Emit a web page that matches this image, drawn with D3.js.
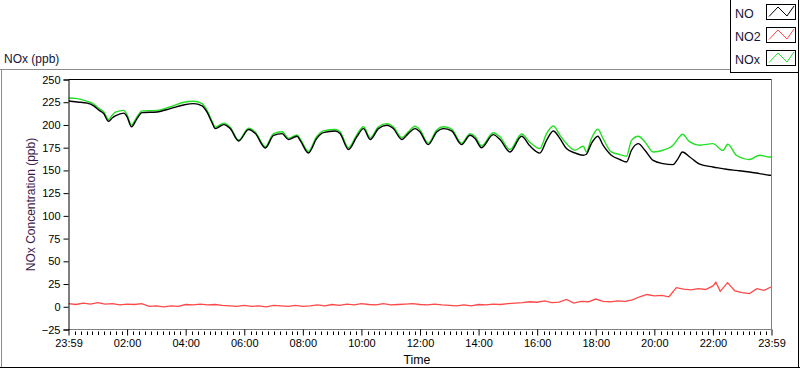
<!DOCTYPE html>
<html><head><meta charset="utf-8">
<script src="https://cdn.jsdelivr.net/npm/d3@7"></script>
<style>body{margin:0;background:#fff}svg{display:block;font-family:"Liberation Sans",Arial,sans-serif}</style>
</head><body><svg id="c" width="800" height="369"></svg>
<script>
// ---- data (time in hours after 23:59) ----
const seriesNames = ["NO", "NO2", "NOx"];
const seriesColors = ["#000000", "#ff4848", "#22e022"];
const yTickValues = [-25, 0, 25, 50, 75, 100, 125, 150, 175, 200, 225, 250];
const xTickHours = [0, 2, 4, 6, 8, 10, 12, 14, 16, 18, 20, 22, 24];
const xTickLabels = ["23:59", "02:00", "04:00", "06:00", "08:00", "10:00", "12:00", "14:00", "16:00", "18:00", "20:00", "22:00", "23:59"];

const noTimes = [0.00,0.30,0.64,0.86,1.05,1.20,1.37,1.50,1.60,1.89,2.00,2.15,2.34,2.51,3.02,3.48,3.93,4.27,4.56,4.73,4.90,5.01,5.30,5.52,5.81,6.15,6.38,6.72,7.00,7.29,7.51,7.80,7.92,8.19,8.47,8.70,9.10,9.27,9.56,9.84,10.07,10.30,10.58,10.87,11.09,11.38,11.60,11.83,12.00,12.28,12.57,12.80,13.08,13.42,13.71,13.88,14.10,14.50,14.73,15.07,15.47,15.75,16.09,16.32,16.55,16.78,17.00,17.29,17.57,17.68,17.85,18.07,18.25,18.53,18.82,19.05,19.22,19.45,19.68,19.96,20.30,20.64,20.81,20.96,21.21,21.55,22.00,22.34,22.51,22.80,23.25,23.59,23.93,24.00];
const noValues = [226.4,225.3,224,221,216,212.5,204,208,210,213,209,198,207,213.6,214.3,218,222,223.5,221,214,202.6,196,200.4,196,182.4,195,190.5,174.7,188.6,190.5,184,187.5,182.4,169.2,185,191.6,193.4,190.5,173,186.8,196,184,196,199.7,196,184,190.5,196,192.3,178.4,192.3,196,193.4,178.4,188.6,185,175,189.4,184,170.3,187.6,177,169,183,193.4,185,174,169.2,166.7,167.8,179.5,187.6,177.7,166.7,162,159.3,172.2,179.5,172.2,161,157.5,156.4,163,170.3,164.8,156.8,153.8,152,151,150,148.3,146.5,144.7,144.5];
const noxValues = [229.7,229,226,223,218,214.5,206,211,214,216,211,200,209,215.5,216,220,225,226,223.5,216,204,197.5,202,197.5,183.5,196.5,192,176,190.5,192.5,185.5,189,184,171,187,193.5,195,192.5,175,189,198,186,198,201.5,198,186,192.5,198.5,194.5,180,194.5,198,195.5,180,190.5,187.5,177,191.5,187,173,190,181,174,190.5,198.9,188.6,179.5,172.2,176.6,170.3,185,195.3,185,170.3,167.4,165.6,183,187.6,181.3,170.3,172.2,177.7,185,189.8,181.3,177.7,179.5,172,178.8,166.7,162,166.7,164.8,165];

const no2Times = [0,0.25,0.5,0.75,1,1.25,1.5,1.75,2,2.25,2.5,2.75,3,3.25,3.5,3.75,4,4.25,4.5,4.75,5,5.25,5.5,5.75,6,6.25,6.5,6.75,7,7.25,7.5,7.75,8,8.25,8.5,8.75,9,9.25,9.5,9.75,10,10.25,10.5,10.75,11,11.25,11.5,11.75,12,12.25,12.5,12.75,13,13.25,13.5,13.75,14,14.25,14.5,14.75,15,15.25,15.5,15.75,16,16.25,16.5,16.75,17,17.25,17.5,17.75,18,18.25,18.5,18.75,19,19.25,19.5,19.75,20,20.25,20.5,20.75,21,21.25,21.5,21.75,22,22.1,22.25,22.5,22.75,23,23.25,23.5,23.75,24];
const no2Values = [3.5,2.5,4,3,4.5,3,3.5,2,3,2.5,3.5,0.5,1,0,1,0.5,2.5,2,3,2,2.5,1.5,1,0.5,1.5,0.5,1,0,1.5,1,0.5,1.5,0.5,1,2,1,2.5,1.5,3,2,3.5,2.5,2,3.5,2,2.5,3,3.5,2.5,2,3,2,1.5,1,2,1,2.5,2,3,2.5,3.5,4,4.5,5.5,5,6.5,4.5,5,8,4,6,5.5,8.5,6,5.5,6.5,6,7.5,11,13.5,12,12.5,11,21,19.5,18.5,20,19,23,27,17,26.5,17.5,15.5,14.5,20,18,22];

// ---- layout ----
const svg = d3.select("#c");
const L = 68.5, R = 771.5, T = 79.5, B = 329.5;
const x = d3.scaleLinear().domain([0, 24]).range([L, R]);
const y = d3.scaleLinear().domain([-25, 250]).range([B, T]);

// panel frame
svg.append("line").attr("x1",0).attr("x2",730).attr("y1",69.5).attr("y2",69.5).attr("stroke","#8c8c8c");
svg.append("line").attr("x1",1.5).attr("x2",1.5).attr("y1",69.5).attr("y2",368).attr("stroke","#8c8c8c");
svg.append("line").attr("x1",0).attr("x2",800).attr("y1",367.5).attr("y2",367.5).attr("stroke","#000");
svg.append("line").attr("x1",798.5).attr("x2",798.5).attr("y1",0).attr("y2",368).attr("stroke","#000");

svg.append("text").attr("x",4).attr("y",63).attr("font-size",12).attr("fill","#141438").text("NOx (ppb)");

// legend
svg.append("line").attr("x1",730.5).attr("x2",730.5).attr("y1",0).attr("y2",73).attr("stroke","#000");
svg.append("line").attr("x1",730).attr("x2",799).attr("y1",72.5).attr("y2",72.5).attr("stroke","#000");
const legY = [4.5, 27.5, 50.5];
const legOrder = [0, 1, 2];
legOrder.forEach((k, i) => {
  const g = svg.append("g").attr("transform", `translate(0,${legY[i]})`);
  g.append("text").attr("x",735).attr("y",13.5).attr("font-size",12.5).attr("fill","#141438").text(seriesNames[k]);
  g.append("rect").attr("x",766.5).attr("y",0).attr("width",29).attr("height",15).attr("fill","#fff").attr("stroke","#000");
  g.append("polyline").attr("points",[[769,12],[778,2.5],[787,11.5],[794,1.5]].map(p=>p.join(",")).join(" "))
    .attr("fill","none").attr("stroke",seriesColors[k]).attr("stroke-width",1);
});

// plot area
svg.append("defs").append("clipPath").attr("id","clip").append("rect")
  .attr("x",L).attr("y",T).attr("width",R-L).attr("height",B-T);

const plot = svg.append("g").attr("clip-path","url(#clip)");
const lineGen = d3.line().x(d => x(d[0])).y(d => y(d[1]));
const smoothGen = d3.line().x(d => x(d[0])).y(d => y(d[1])).curve(d3.curveMonotoneX);
plot.append("path").datum(no2Times.map((t,i)=>[t,no2Values[i]])).attr("d",lineGen)
  .attr("fill","none").attr("stroke",seriesColors[1]).attr("stroke-width",1.3);
plot.append("path").datum(noTimes.map((t,i)=>[t,noxValues[i]])).attr("d",smoothGen)
  .attr("fill","none").attr("stroke",seriesColors[2]).attr("stroke-width",1.4);
plot.append("path").datum(noTimes.map((t,i)=>[t,noValues[i]])).attr("d",smoothGen)
  .attr("fill","none").attr("stroke",seriesColors[0]).attr("stroke-width",1.4);

// plot borders
svg.append("line").attr("x1",L).attr("x2",R).attr("y1",B).attr("y2",B).attr("stroke","#808080");
svg.append("line").attr("x1",R).attr("x2",R).attr("y1",T).attr("y2",B).attr("stroke","#808080");
svg.append("line").attr("x1",L).attr("x2",R).attr("y1",T).attr("y2",T).attr("stroke","#000");

// y axis
const yAxis = d3.axisLeft(y).tickValues(yTickValues).tickSize(5).tickPadding(3);
const gy = svg.append("g").attr("transform",`translate(${L},0)`).call(yAxis);
gy.select(".domain").attr("stroke","#000");
gy.selectAll("text").attr("font-size",11).attr("fill","#000").attr("font-family","'Liberation Sans',Arial,sans-serif");

// x axis (major)
const xAxis = d3.axisBottom(x).tickValues(xTickHours).tickSize(6).tickPadding(4)
  .tickFormat((d,i) => xTickLabels[i]);
const gx = svg.append("g").attr("transform",`translate(0,${B})`).call(xAxis);
gx.select(".domain").remove();
gx.selectAll("text").attr("font-size",11).attr("fill","#000").attr("font-family","'Liberation Sans',Arial,sans-serif");
// minor ticks every 12 minutes from 00:00
const minorHours = d3.range(1, 1440, 12).map(m => m/60).filter(h => !xTickHours.some(t => Math.abs(t - h) < 0.05));
svg.append("g").selectAll("line").data(minorHours).join("line")
  .attr("x1", d => Math.round(x(d)) + 0.5).attr("x2", d => Math.round(x(d)) + 0.5)
  .attr("y1", B + 2).attr("y2", B + 5.5).attr("stroke","#000");

// axis titles
svg.append("text").attr("x",417).attr("y",364).attr("text-anchor","middle").attr("font-size",12.3).attr("fill","#000").text("Time");
svg.append("text").attr("transform",`translate(35,${(T+B)/2}) rotate(-90)`).attr("text-anchor","middle")
  .attr("font-size",12).attr("fill","#3c1848").text("NOx Concentration (ppb)");
</script></body></html>
